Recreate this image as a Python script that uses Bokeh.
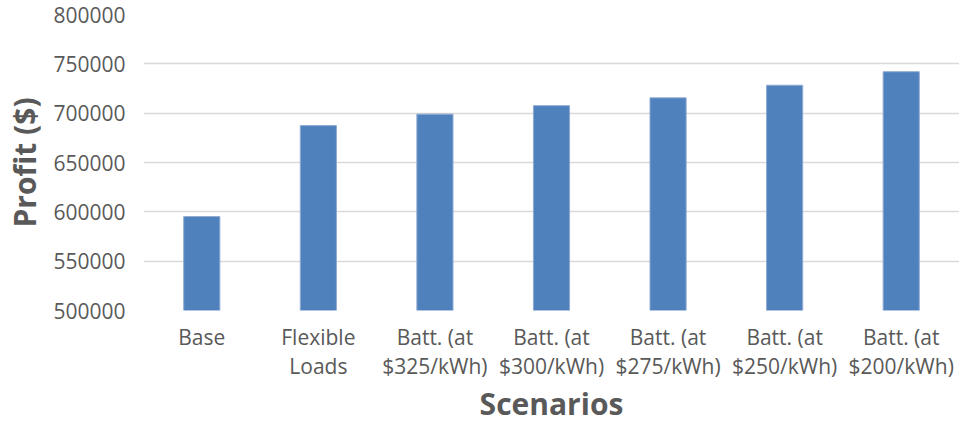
from bokeh.plotting import figure
from bokeh.models import ColumnDataSource, SingleIntervalTicker, NumeralTickFormatter
from bokeh.embed import file_html
from bokeh.resources import INLINE

scenarios = ["Base", "Flexible\nLoads", "Batt. (at\n$325/kWh)", "Batt. (at\n$300/kWh)",
             "Batt. (at\n$275/kWh)", "Batt. (at\n$250/kWh)", "Batt. (at\n$200/kWh)"]
profit = [595200, 687400, 699000, 707600, 715500, 728300, 742000]

y_min, y_max, y_step = 500000, 800000, 50000

src = ColumnDataSource(dict(x=scenarios, top=profit))

p = figure(x_range=scenarios, y_range=(y_min, y_max), width=959, height=426,
           output_backend="svg", toolbar_location=None,
           min_border_left=143, min_border_top=14, min_border_bottom=108, min_border_right=0)

p.vbar(x="x", top="top", bottom=y_min, width=0.31, source=src,
       fill_color="#4F81BD", line_color="#8FAAD3", line_width=1)

grey = "#595959"
p.outline_line_color = None
p.xgrid.grid_line_color = None
p.ygrid.grid_line_color = "#D9D9D9"
p.ygrid.grid_line_width = 1.5

p.yaxis.ticker = SingleIntervalTicker(interval=y_step)
p.yaxis.formatter = NumeralTickFormatter(format="0")
for ax in (p.xaxis, p.yaxis):
    ax.axis_line_color = None
    ax.major_tick_line_color = None
    ax.minor_tick_line_color = None
    ax.major_tick_out = 0
    ax.major_tick_in = 0
    ax.minor_tick_out = 0
    ax.minor_tick_in = 0
    ax.major_label_text_font = "Open Sans"
    ax.major_label_text_font_size = "21px"
    ax.major_label_text_color = grey
    ax.axis_label_text_font = "Open Sans"
    ax.axis_label_text_font_style = "bold"
    ax.axis_label_text_font_size = "30px"
    ax.axis_label_text_color = grey

p.yaxis.major_label_standoff = 18
p.yaxis.axis_label = "Profit ($)"
p.yaxis.axis_label_standoff = 5

p.xaxis.major_label_standoff = 12
p.xaxis.major_label_text_line_height = 1.05
p.xaxis.axis_label = "Scenarios"
p.xaxis.axis_label_standoff = 0

open("out.html", "w").write(file_html(p, INLINE))
